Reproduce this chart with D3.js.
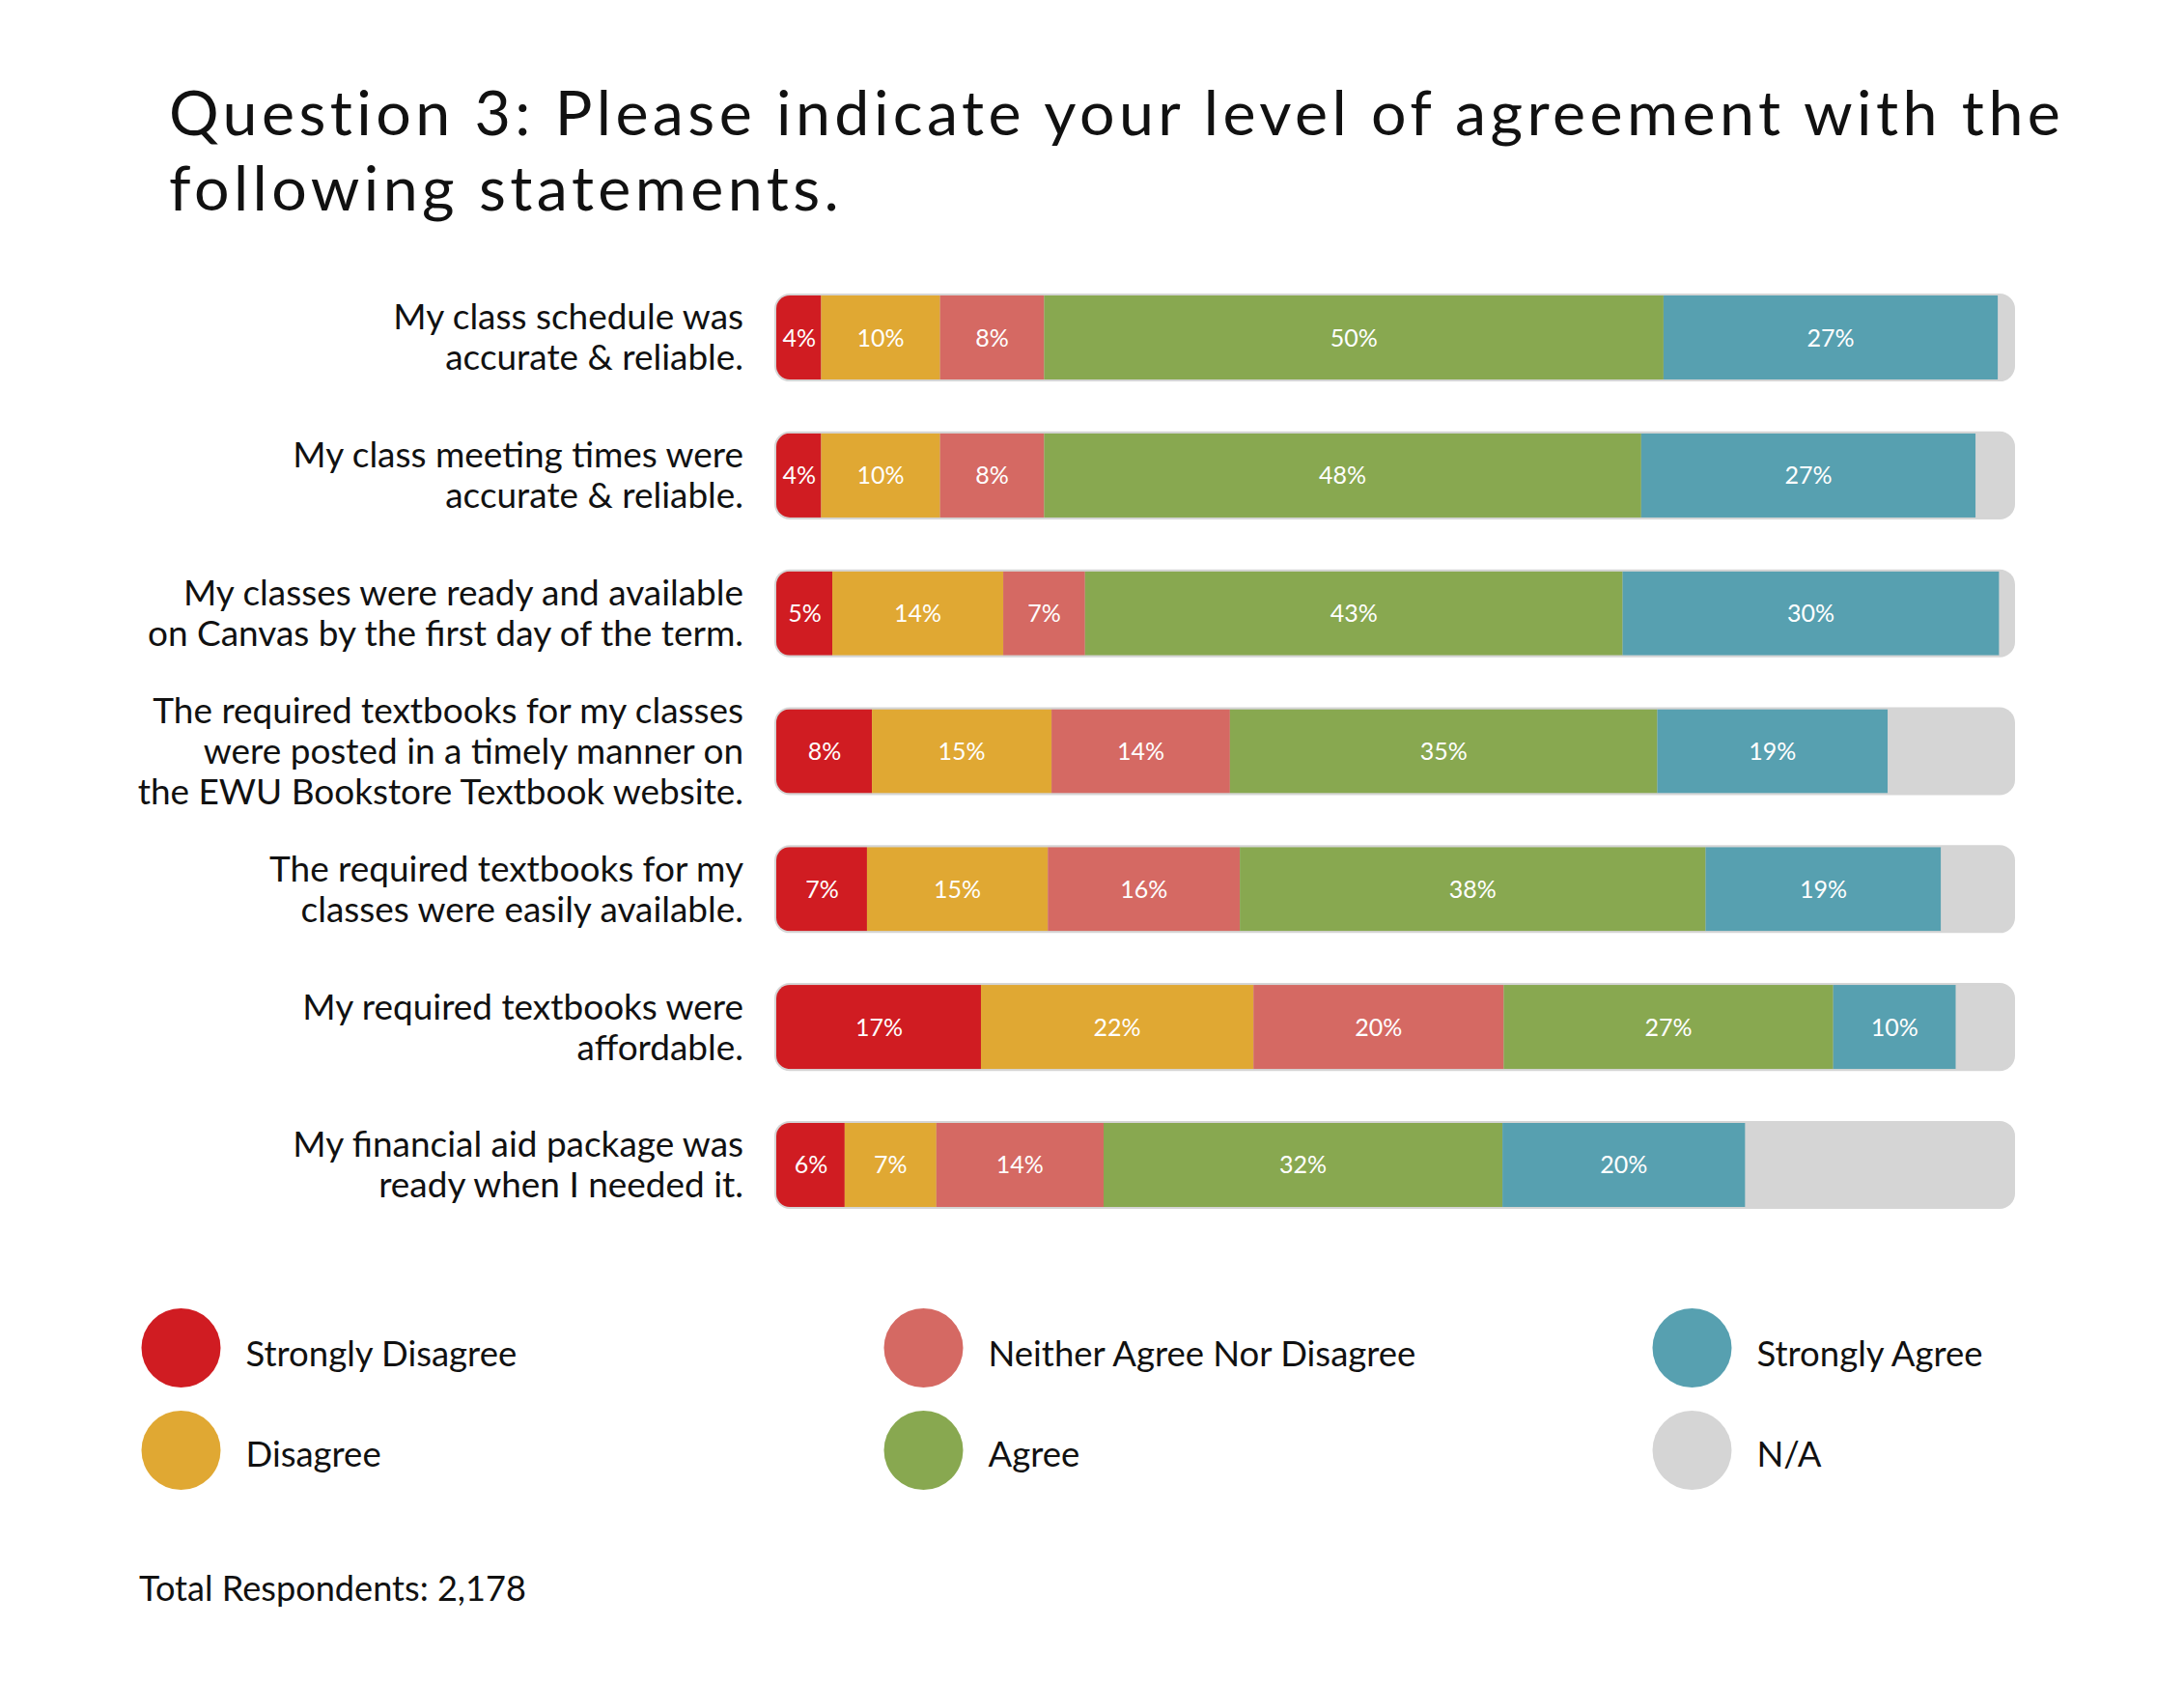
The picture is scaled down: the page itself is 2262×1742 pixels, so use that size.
<!DOCTYPE html>
<html>
<head>
<meta charset="utf-8">
<script src="https://cdn.jsdelivr.net/npm/d3@7"></script>
<style>
  html, body { margin: 0; padding: 0; background: #ffffff; }
  svg { display: block; }
  text { font-family: Lato, "Open Sans", sans-serif; }
</style>
</head>
<body>
<svg id="chart" width="2262" height="1742"></svg>
<script>
// ---------------- DATA ----------------
const titleLines = [
  "Question 3: Please indicate your level of agreement with the",
  "following statements."
];
const categories = [
  ["My class schedule was", "accurate & reliable."],
  ["My class meeting times were", "accurate & reliable."],
  ["My classes were ready and available", "on Canvas by the first day of the term."],
  ["The required textbooks for my classes", "were posted in a timely manner on", "the EWU Bookstore Textbook website."],
  ["The required textbooks for my", "classes were easily available."],
  ["My required textbooks were", "affordable."],
  ["My financial aid package was", "ready when I needed it."]
];
const seriesNames = ["Strongly Disagree", "Disagree", "Neither Agree Nor Disagree", "Agree", "Strongly Agree", "N/A"];
const stronglyDisagree = [3.7, 3.7, 4.6, 7.8, 7.4, 16.6, 5.6];
const disagree         = [9.6, 9.6, 13.8, 14.5, 14.6, 22.0, 7.4];
const neither          = [8.4, 8.4, 6.6, 14.4, 15.5, 20.2, 13.5];
const agree            = [50.0, 48.2, 43.4, 34.5, 37.6, 26.6, 32.2];
const stronglyAgree    = [27.0, 27.0, 30.4, 18.6, 19.0, 9.9, 19.6];
const notApplicable    = [1.3, 3.1, 1.2, 10.2, 5.9, 4.7, 21.7];
const seriesColors = ["#d01c22", "#e0a833", "#d56963", "#88a850", "#57a0b0", "#d5d5d5"];
const labelledSeries = [true, true, true, true, true, false];
const footnote = "Total Respondents: 2,178";

// ---------------- LAYOUT ----------------
const svg = d3.select("#chart");
const seriesValues = [stronglyDisagree, disagree, neither, agree, stronglyAgree, notApplicable];

const rows = categories.map((c, i) => {
  let acc = 0;
  const segs = seriesValues.map((vals, s) => {
    const seg = { row: i, series: s, x0: acc, x1: acc + vals[i], value: vals[i] };
    acc += vals[i];
    return seg;
  });
  return { index: i, lines: c, segs };
});

const x = d3.scaleLinear().domain([0, 100]).range([803, 2086]);
const y = d3.scaleBand().domain(d3.range(categories.length))
  .range([306, 1250]).paddingInner(0.39).paddingOuter(0);
const color = d3.scaleOrdinal().domain(d3.range(seriesNames.length)).range(seriesColors);

function measure(str, size, spacing) {
  const t = svg.append("text").attr("font-size", size)
    .attr("letter-spacing", spacing || 0).text(str);
  const w = t.node().getComputedTextLength();
  t.remove();
  return w;
}
function fitSize(str, targetWidth) {
  return 100 * targetWidth / measure(str, 100, 0);
}

// Title: fixed size, letter-spacing to reach the reference width
const titleSize = 64.5;
const titleW0 = measure(titleLines[0], titleSize, 0);
const titleSpacing = Math.max(0, (1960 - titleW0) / (titleLines[0].length - 1));
svg.append("g").selectAll("text").data(titleLines).join("text")
  .attr("x", 175)
  .attr("y", (d, i) => 140 + i * 78)
  .attr("font-size", titleSize)
  .attr("letter-spacing", titleSpacing)
  .attr("fill", "#111")
  .text(d => d);

// Category labels
const catSize = fitSize("The required textbooks for my classes", 612);
const lineH = 42;
const labelG = svg.append("g");
rows.forEach(r => {
  const cy = y(r.index) + y.bandwidth() / 2;
  const n = r.lines.length;
  labelG.append("text")
    .attr("text-anchor", "end")
    .attr("font-size", catSize)
    .attr("fill", "#111")
    .selectAll("tspan").data(r.lines).join("tspan")
    .attr("x", 770)
    .attr("y", (d, k) => cy + (k - (n - 1) / 2) * lineH + catSize * 0.35)
    .text(d => d);
});

// Bars
const defs = svg.append("defs");
const barG = svg.append("g");
const rad = 15;
rows.forEach(r => {
  const top = y(r.index), h = y.bandwidth();
  const left = x(0), right = x(100);
  defs.append("clipPath").attr("id", "clip" + r.index)
    .append("rect")
    .attr("x", left + 1).attr("y", top).attr("width", right - left - 2).attr("height", h)
    .attr("rx", rad - 1).attr("ry", rad - 1);
  const g = barG.append("g");
  g.append("rect")
    .attr("x", left - 1).attr("y", top - 2)
    .attr("width", right - left + 2).attr("height", h + 4)
    .attr("rx", rad + 1).attr("ry", rad + 1)
    .attr("fill", "#d5d5d5");
  const sg = g.append("g").attr("clip-path", "url(#clip" + r.index + ")");
  sg.selectAll("rect").data(r.segs).join("rect")
    .attr("x", d => x(d.x0))
    .attr("y", top)
    .attr("width", d => Math.max(0, x(d.x1) - x(d.x0)))
    .attr("height", h)
    .attr("fill", d => color(d.series));
  g.selectAll("text").data(r.segs.filter(d => labelledSeries[d.series])).join("text")
    .attr("x", d => (x(d.x0) + x(d.x1)) / 2 + (d.series === 0 ? 1 : 0))
    .attr("y", top + h / 2)
    .attr("dy", "0.36em")
    .attr("text-anchor", "middle")
    .attr("font-size", 25)
    .attr("fill", "#ffffff")
    .text(d => Math.round(d.value) + "%");
});

// Legend
const legendCols = [187.5, 956.5, 1752.5];
const legendRows = [1396, 1502];
const legSize = fitSize("Neither Agree Nor Disagree", 443);
const legendItems = seriesNames.map((name, i) => ({
  name, i, col: Math.floor(i / 2), row: i % 2
}));
const legG = svg.append("g");
const li = legG.selectAll("g").data(legendItems).join("g")
  .attr("transform", d => `translate(${legendCols[d.col]},${legendRows[d.row]})`);
li.append("circle").attr("r", 41).attr("fill", d => color(d.i));
li.append("text")
  .attr("x", 67)
  .attr("y", d => (d.row === 0 ? 6 : 4))
  .attr("dy", "0.35em")
  .attr("font-size", legSize)
  .attr("fill", "#111")
  .text(d => d.name);

// Footnote
const footSize = fitSize(footnote, 401);
svg.append("text")
  .attr("x", 144)
  .attr("y", 1658)
  .attr("font-size", footSize)
  .attr("fill", "#111")
  .text(footnote);
</script>
</body>
</html>
